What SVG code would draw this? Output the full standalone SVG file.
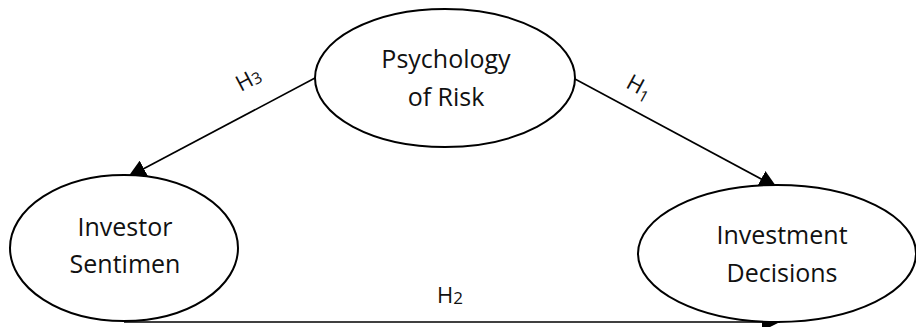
<svg xmlns="http://www.w3.org/2000/svg" width="916" height="327" viewBox="0 0 916 327">
<style>
.node{fill:#fff;stroke:#000;stroke-width:2}
.lbl{font-family:"Open Sans","Liberation Sans",sans-serif;font-size:25px;fill:#111;text-anchor:middle}
.h{font-family:"Open Sans","Liberation Sans",sans-serif;font-size:22px;fill:#111;text-anchor:middle}
.edge{stroke:#000;stroke-width:1.6;fill:none;marker-end:url(#arr)}
</style>
<defs>
<marker id="arr" markerUnits="userSpaceOnUse" markerWidth="18" markerHeight="18" refX="18" refY="9" orient="auto">
<path d="M0,0 L18,9 L0,18 z" fill="#000"/>
</marker>
</defs>
<rect width="916" height="327" fill="#fff"/>
<g id="connectors">
<line class="edge" x1="315" y1="78" x2="128" y2="177"/>
<line class="edge" x1="575" y1="79" x2="777" y2="187.5"/>
<line class="edge" x1="124" y1="322" x2="780" y2="322" stroke-width="2"/>
<text class="h" transform="translate(252,86) rotate(-28)">H<tspan font-size="16" dy="1">3</tspan></text>
<text class="h" transform="translate(636,93) rotate(28.5)">H<tspan font-size="16" dy="5">1</tspan></text>
<text class="h" x="450" y="303">H<tspan font-size="17" dy="1">2</tspan></text>
</g>
<g id="node-psychology">
<ellipse class="node" cx="445" cy="78" rx="130" ry="69"/>
<text class="lbl" x="446" y="68">Psychology</text>
<text class="lbl" x="446" y="106">of Risk</text>
</g>
<g id="node-investor">
<ellipse class="node" cx="124" cy="248" rx="114" ry="73"/>
<text class="lbl" x="125" y="236">Investor</text>
<text class="lbl" x="125" y="273">Sentimen</text>
</g>
<g id="node-decisions">
<ellipse class="node" cx="777" cy="253.5" rx="139" ry="68.5"/>
<text class="lbl" x="782" y="244">Investment</text>
<text class="lbl" x="782" y="282">Decisions</text>
</g>
</svg>
